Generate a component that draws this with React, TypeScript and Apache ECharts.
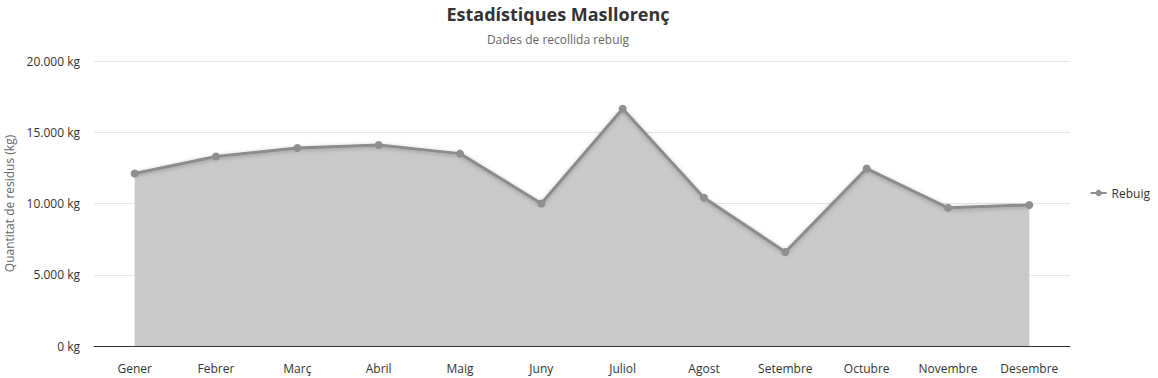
import React, { useEffect, useRef } from "react";
import * as echarts from "echarts";

const months = ["Gener", "Febrer", "Març", "Abril", "Maig", "Juny", "Juliol", "Agost", "Setembre", "Octubre", "Novembre", "Desembre"];
const rebuig = [12100, 13300, 13900, 14100, 13500, 10000, 16650, 10400, 6600, 12450, 9700, 9900];
const yTicks = { min: 0, max: 20000, interval: 5000 };

const fmt = (v: number) => String(v).replace(/\B(?=(\d{3})+(?!\d))/g, ".") + " kg";

export default function App() {
  const ref = useRef<HTMLDivElement>(null);
  useEffect(() => {
    const chart = echarts.init(ref.current!, null, { renderer: "svg" });
    const font = "'Open Sans', 'Noto Sans', sans-serif";
    chart.setOption({
      animation: false,
      textStyle: { fontFamily: font },
      title: {
        text: "Estadístiques Masllorenç",
        subtext: "Dades de recollida rebuig",
        left: 553,
        top: 0,
        textAlign: "center",
        itemGap: 10,
        textStyle: { fontSize: 18, fontWeight: "bold", color: "#333", fontFamily: font },
        subtextStyle: { fontSize: 12, color: "#666", fontFamily: font },
      },
      legend: {
        data: ["Rebuig"],
        right: 3,
        top: 182,
        itemWidth: 16,
        itemHeight: 8,
        itemGap: 4,
        textStyle: { fontSize: 12, color: "#333", fontFamily: font },
      },
      grid: { left: 94, right: 88, top: 61, bottom: 32, containLabel: false, outerBoundsMode: "none" },
      xAxis: {
        type: "category",
        data: months,
        boundaryGap: true,
        axisLine: { lineStyle: { color: "#333", width: 1 } },
        axisTick: { show: false },
        axisLabel: { color: "#333", fontSize: 12, margin: 16, fontFamily: font },
      },
      yAxis: {
        type: "value",
        min: yTicks.min,
        max: yTicks.max,
        interval: yTicks.interval,
        name: "Quantitat de residus (kg)",
        nameLocation: "middle",
        nameGap: 78,
        nameRotate: 90,
        nameTextStyle: { color: "#666", fontSize: 12, fontFamily: font },
        axisLine: { show: false },
        axisTick: { show: false },
        splitLine: { lineStyle: { color: "#e6e6e6" } },
        axisLabel: { color: "#333", fontSize: 12, margin: 14, formatter: (v: number) => fmt(v), fontFamily: font },
      },
      series: [
        {
          name: "Rebuig",
          type: "line",
          data: rebuig,
          symbol: "circle",
          symbolSize: 8,
          itemStyle: { color: "#8f8f8f" },
          lineStyle: {
            color: "#8c8c8c",
            width: 3,
            shadowColor: "rgba(0,0,0,0.25)",
            shadowBlur: 4,
            shadowOffsetY: 1,
          },
          areaStyle: { color: "#c9c9c9", opacity: 1 },
        },
      ],
    });
    return () => chart.dispose();
  }, []);
  return <div ref={ref} style={{ width: 1158, height: 378, position: "absolute", left: 0, top: 0 }} />;
}
